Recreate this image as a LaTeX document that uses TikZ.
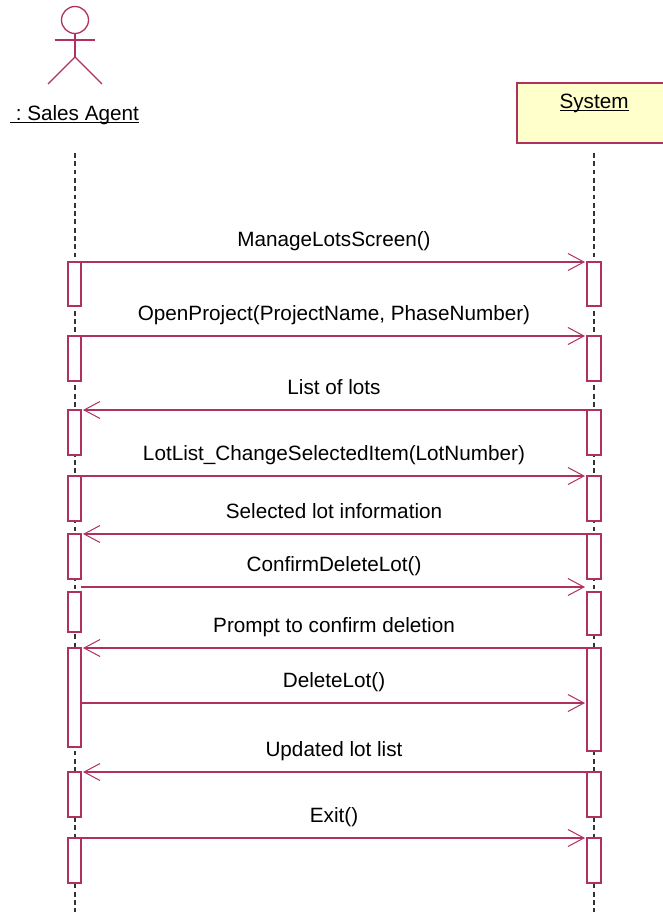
\documentclass[tikz,border=0pt]{standalone}
\usepackage{fontspec}
\setmainfont{Liberation Sans}
\usetikzlibrary{arrows.meta}
\definecolor{umlline}{RGB}{176,48,96}
\definecolor{umlfill}{RGB}{255,255,204}
\tikzset{
  actorline/.style={draw=umlline, line width=1.3pt},
  lifeline/.style={draw=black!80, line width=1.3pt, dash pattern=on 4.8pt off 3.5pt},
  bar/.style={draw=umlline, line width=1.3pt, fill=white, minimum width=13pt, inner sep=0pt, outer sep=0pt},
  rbar/.style={bar, minimum width=14pt},
  msg/.style={draw=umlline, line width=1.3pt, shorten >=2pt, -{Straight Barb[length=16pt,width=17pt,line width=1pt]}},
  msglabel/.style={font=\fontsize{20.7}{24}\selectfont, text height=15pt, text depth=5pt, inner sep=0pt},
}
\begin{document}
\begin{tikzpicture}[x=1pt,y=-1pt]
\useasboundingbox (0,0) rectangle (663,912);
\def\xl{75}
\def\xr{594}
\def\xm{334}

% lifelines
\coordinate (ltop) at (\xl,153);
\coordinate (lbot) at (\xl,912);
\coordinate (rtop) at (\xr,153);
\coordinate (rbot) at (\xr,912);
\draw[lifeline] (ltop) -- (lbot);
\draw[lifeline] (rtop) -- (rbot);

% actor
\node[circle, draw=umlline, line width=1.3pt, minimum size=27pt, inner sep=0pt] (head) at (\xl,20) {};
\coordinate (armleft) at (54.5,40);
\coordinate (armright) at (94.5,40);
\coordinate (hip) at (\xl,57);
\coordinate (footleft) at (48,84);
\coordinate (footright) at (102,84);
\draw[actorline] (head.south) -- (hip);
\draw[actorline] (armleft) -- (armright);
\draw[actorline] (footleft) -- (hip) -- (footright);
\node[msglabel] (agent) at (74.5,116) {\underline{\smash{\ :\ Sales Agent}}};

% object
\node[draw=umlline, line width=1.3pt, fill=umlfill, minimum width=154pt, minimum height=60pt, inner sep=0pt] (system) at (\xr,113) {};
\node[msglabel] (systemlabel) at (\xr,104) {\underline{\smash{System}}};

% left bars
\node[bar, minimum height=44pt] (la) at (74.5,284) {};
\node[bar, minimum height=45pt] (lb) at (74.5,358.5) {};
\node[bar, minimum height=45pt] (lc) at (74.5,432.5) {};
\node[bar, minimum height=45pt] (ld) at (74.5,498.5) {};
\node[bar, minimum height=45pt] (le) at (74.5,556.5) {};
\node[bar, minimum height=40pt] (lf) at (74.5,612) {};
\node[bar, minimum height=99pt] (lg) at (74.5,697.5) {};
\node[bar, minimum height=45pt] (lh) at (74.5,794.5) {};
\node[bar, minimum height=45pt] (li) at (74.5,860.5) {};

% right bars
\node[rbar, minimum height=44pt] (ra) at (\xr,284) {};
\node[rbar, minimum height=45pt] (rb) at (\xr,358.5) {};
\node[rbar, minimum height=45pt] (rc) at (\xr,432.5) {};
\node[rbar, minimum height=45pt] (rd) at (\xr,498.5) {};
\node[rbar, minimum height=45pt] (re) at (\xr,556.5) {};
\node[rbar, minimum height=43pt] (rf) at (\xr,613.5) {};
\node[rbar, minimum height=103pt] (rg) at (\xr,699.5) {};
\node[rbar, minimum height=45pt] (rh) at (\xr,794.5) {};
\node[rbar, minimum height=45pt] (ri) at (\xr,860.5) {};

% free ends of the two messages that miss a bar top
\coordinate (confirmleft) at (81,587);
\coordinate (confirmright) at (587,587);
\coordinate (deleteleft) at (81,703);
\coordinate (deleteright) at (587,703);

% messages
\draw[msg] (la.north east) -- (ra.north west);
\draw[msg] (lb.north east) -- (rb.north west);
\draw[msg] (rc.north west) -- (lc.north east);
\draw[msg] (ld.north east) -- (rd.north west);
\draw[msg] (re.north west) -- (le.north east);
\draw[msg] (confirmleft) -- (confirmright);
\draw[msg] (rg.north west) -- (lg.north east);
\draw[msg] (deleteleft) -- (deleteright);
\draw[msg] (rh.north west) -- (lh.north east);
\draw[msg] (li.north east) -- (ri.north west);

% labels
\node[msglabel] (ma) at (\xm,241) {ManageLotsScreen()};
\node[msglabel] (mb) at (\xm,315) {OpenProject(ProjectName, PhaseNumber)};
\node[msglabel] (mc) at (\xm,389) {List of lots};
\node[msglabel] (md) at (\xm,455) {LotList\_ChangeSelectedItem(LotNumber)};
\node[msglabel] (me) at (\xm,513) {Selected lot information};
\node[msglabel] (mf) at (\xm,566) {ConfirmDeleteLot()};
\node[msglabel] (mg) at (\xm,627) {Prompt to confirm deletion};
\node[msglabel] (mh) at (\xm,682) {DeleteLot()};
\node[msglabel] (mi) at (\xm,751) {Updated lot list};
\node[msglabel] (mj) at (\xm,817) {Exit()};
\end{tikzpicture}
\end{document}
